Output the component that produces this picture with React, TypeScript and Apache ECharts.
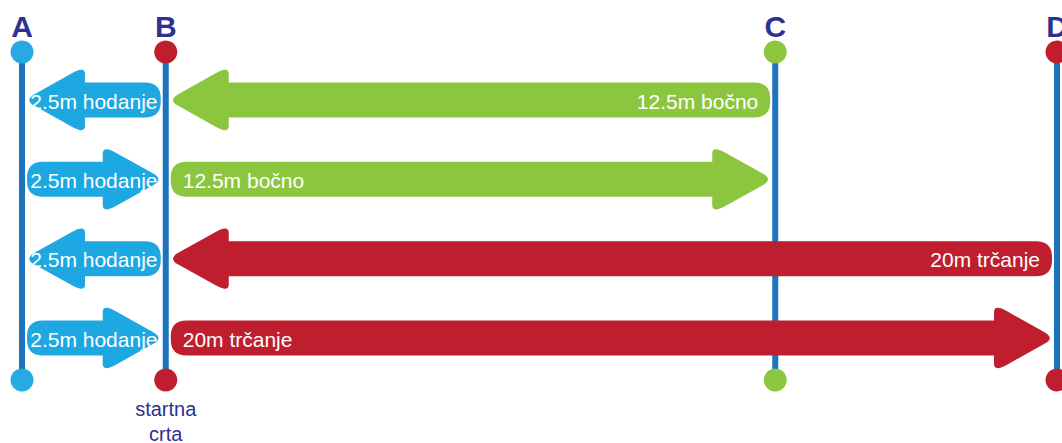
import React, { useEffect, useRef } from "react";
import * as echarts from "echarts";

// Stations (schematic positions along the track)
const stationNames = ["A", "B", "C", "D"];
const stationPos = [0, 2.5, 13.1, 18];
const stationDotColors = ["#27aae1", "#be1e2d", "#8dc63f", "#be1e2d"];
const stationCaptions = ["", "startna\ncrta", "", ""];

// Arrows: row, tail station, tip station, label, colour
const arrowRows = [1, 1, 2, 2, 3, 3, 4, 4];
const arrowFrom = [1, 2, 0, 1, 1, 3, 0, 1];
const arrowTo = [0, 1, 1, 2, 0, 1, 1, 3];
const arrowLabels = [
  "2.5m hodanje",
  "12.5m bočno",
  "2.5m hodanje",
  "12.5m bočno",
  "2.5m hodanje",
  "20m trčanje",
  "2.5m hodanje",
  "20m trčanje",
];
const arrowColors = [
  "#1da8e2",
  "#8cc63f",
  "#1da8e2",
  "#8cc63f",
  "#1da8e2",
  "#be1e2d",
  "#1da8e2",
  "#be1e2d",
];

const FONT = "Arial, 'Liberation Sans', sans-serif";

function roundedPath(pts: number[][], radii: number[]): string {
  const n = pts.length;
  let d = "";
  for (let i = 0; i < n; i++) {
    const p = pts[i];
    const prev = pts[(i - 1 + n) % n];
    const next = pts[(i + 1) % n];
    const r = radii[i];
    const d1 = Math.hypot(prev[0] - p[0], prev[1] - p[1]);
    const d2 = Math.hypot(next[0] - p[0], next[1] - p[1]);
    const r1 = Math.min(r, d1 / 2);
    const r2 = Math.min(r, d2 / 2);
    const a = [p[0] + ((prev[0] - p[0]) * r1) / d1, p[1] + ((prev[1] - p[1]) * r1) / d1];
    const b = [p[0] + ((next[0] - p[0]) * r2) / d2, p[1] + ((next[1] - p[1]) * r2) / d2];
    d += (i === 0 ? "M" : "L") + a[0].toFixed(2) + " " + a[1].toFixed(2);
    d += " Q" + p[0].toFixed(2) + " " + p[1].toFixed(2) + " " + b[0].toFixed(2) + " " + b[1].toFixed(2) + " ";
  }
  return d + "Z";
}

export default function App() {
  const ref = useRef<HTMLDivElement>(null);

  useEffect(() => {
    if (!ref.current) return;
    const chart = echarts.init(ref.current, undefined, { renderer: "svg" });

    const stationData = stationPos.map((p, i) => [p, i]);
    const arrowData = arrowRows.map((r, i) => [stationPos[arrowFrom[i]], stationPos[arrowTo[i]], r]);

    const option: any = {
      animation: false,
      backgroundColor: "#ffffff",
      grid: { left: 22, right: 5, top: 100, bottom: 105 },
      xAxis: { type: "value", min: 0, max: 18, show: false },
      yAxis: { type: "value", min: 1, max: 4, inverse: true, show: false },
      series: [
        {
          type: "custom",
          data: stationData,
          clip: false,
          renderItem: (params: any, api: any) => {
            const i = params.dataIndex;
            const top = api.coord([api.value(0), 1]);
            const bot = api.coord([api.value(0), 4]);
            const x = top[0];
            const yTop = top[1] - 48;
            const yBot = bot[1] + 42;
            const color = stationDotColors[i];
            const children: any[] = [
              {
                type: "line",
                shape: { x1: x, y1: yTop, x2: x, y2: yBot },
                style: { stroke: "#1c75bc", lineWidth: 6 },
              },
              { type: "circle", shape: { cx: x, cy: yTop, r: 11.5 }, style: { fill: color } },
              { type: "circle", shape: { cx: x, cy: yBot, r: 11.5 }, style: { fill: color } },
              {
                type: "text",
                style: {
                  text: stationNames[i],
                  x,
                  y: yTop - 26,
                  fill: "#2e3192",
                  fontSize: 30,
                  fontWeight: "bold",
                  fontFamily: FONT,
                  align: "center",
                  verticalAlign: "middle",
                },
              },
            ];
            if (stationCaptions[i]) {
              children.push({
                type: "text",
                style: {
                  text: stationCaptions[i],
                  x,
                  y: yBot + 16,
                  fill: "#2e3192",
                  fontSize: 20,
                  lineHeight: 25,
                  fontFamily: FONT,
                  align: "center",
                  verticalAlign: "top",
                },
              });
            }
            return { type: "group", children };
          },
        },
        {
          type: "custom",
          data: arrowData,
          clip: false,
          renderItem: (params: any, api: any) => {
            const i = params.dataIndex;
            const tail = api.coord([api.value(0), api.value(2)]);
            const tip = api.coord([api.value(1), api.value(2)]);
            const dir = Math.sign(tip[0] - tail[0]);
            const gap = 5;
            const xs = tail[0] + dir * gap;
            const xt = tip[0] - dir * gap;
            const c = tail[1];
            const hl = 58;
            const hh = 34;
            const bh = 17.5;
            const xh = xt - dir * hl;
            const pts = [
              [xt + dir * 3, c],
              [xh, c + hh],
              [xh, c + bh],
              [xs, c + bh],
              [xs, c - bh],
              [xh, c - bh],
              [xh, c - hh],
            ];
            const d = roundedPath(pts, [12, 15, 0, 16, 16, 0, 15]);
            const span = Math.abs(xt - xs);
            let tx: number;
            let align: string;
            if (span < 200) {
              tx = (xs + xt) / 2;
              align = "center";
            } else {
              tx = xs + dir * 12;
              align = dir > 0 ? "left" : "right";
            }
            return {
              type: "group",
              children: [
                { type: "path", shape: { pathData: d }, style: { fill: arrowColors[i] } },
                {
                  type: "text",
                  style: {
                    text: arrowLabels[i],
                    x: tx,
                    y: c + 1,
                    fill: "#ffffff",
                    fontSize: 21,
                    fontFamily: FONT,
                    align,
                    verticalAlign: "middle",
                  },
                },
              ],
            };
          },
        },
      ],
    };

    chart.setOption(option);
    return () => chart.dispose();
  }, []);

  return (
    <div
      ref={ref}
      style={{ position: "absolute", left: 0, top: 0, width: 1062, height: 443, background: "#fff" }}
    />
  );
}
